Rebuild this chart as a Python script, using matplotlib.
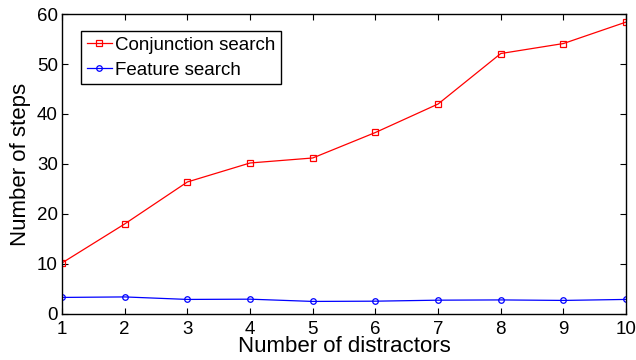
import matplotlib
matplotlib.use("Agg")
from matplotlib import pyplot as plt

plt.rcParams['font.family'] = ['Liberation Sans', 'DejaVu Sans']

# Data
distractors = [1, 2, 3, 4, 5, 6, 7, 8, 9, 10]
conjunction = [10.2, 18.0, 26.4, 30.2, 31.2, 36.3, 42.0, 52.1, 54.1, 58.4]
feature = [3.3, 3.4, 2.9, 2.95, 2.5, 2.55, 2.75, 2.8, 2.7, 2.9]

fig = plt.figure(figsize=(6.36, 3.6), dpi=100)
ax = fig.add_axes([0.0975, 0.128, 0.887, 0.833])

ax.plot(distractors, conjunction, color='red', lw=0.9, marker='s', ms=4,
        mfc='none', mew=0.9, label='Conjunction search')
ax.plot(distractors, feature, color='blue', lw=0.9, marker='o', ms=4,
        mfc='none', mew=0.9, label='Feature search')

ax.set_xlim(1, 10)
ax.set_ylim(0, 60)
ax.set_xticks(distractors)
ax.set_yticks([0, 10, 20, 30, 40, 50, 60])
ax.tick_params(direction='in', top=True, right=True, labelsize=13.5, length=4)
ax.tick_params(axis='x', pad=5)
ax.tick_params(axis='y', pad=3)
for s in ax.spines.values():
    s.set_linewidth(1.0)

ax.set_xlabel('Number of distractors', fontsize=16, labelpad=-1)
ax.set_ylabel('Number of steps', fontsize=16, labelpad=4)

leg = ax.legend(loc='upper left', bbox_to_anchor=(0.034, 0.943), fontsize=13.5,
                fancybox=False, framealpha=1, edgecolor='black',
                handlelength=1.35, handletextpad=0.15, borderpad=0.3,
                labelspacing=0.4, borderaxespad=0)
leg.get_frame().set_linewidth(1.0)

fig.savefig('out.png', dpi=100)
